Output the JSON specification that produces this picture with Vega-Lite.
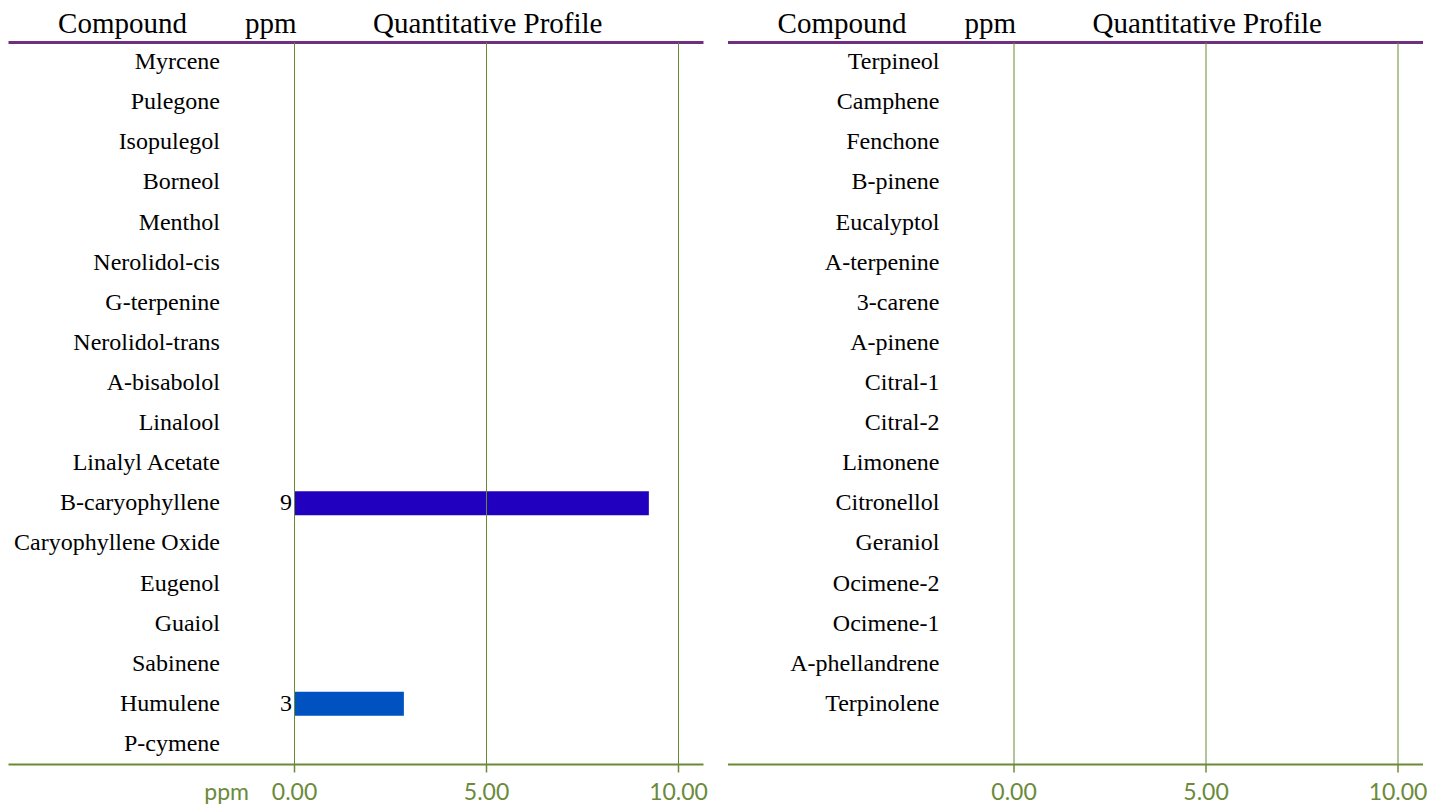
{
  "$schema": "https://vega.github.io/schema/vega-lite/v6.json",
  "background": "white",
  "padding": {"left": 8, "top": 9, "right": 0, "bottom": 0},
  "spacing": 24.5,
  "bounds": "flush",
  "config": {"view": {"stroke": null}},
  "datasets": {
    "left": [
      {"compound": "Myrcene", "ppm": 0},
      {"compound": "Pulegone", "ppm": 0},
      {"compound": "Isopulegol", "ppm": 0},
      {"compound": "Borneol", "ppm": 0},
      {"compound": "Menthol", "ppm": 0},
      {"compound": "Nerolidol-cis", "ppm": 0},
      {"compound": "G-terpenine", "ppm": 0},
      {"compound": "Nerolidol-trans", "ppm": 0},
      {"compound": "A-bisabolol", "ppm": 0},
      {"compound": "Linalool", "ppm": 0},
      {"compound": "Linalyl Acetate", "ppm": 0},
      {"compound": "B-caryophyllene", "ppm": 9.24},
      {"compound": "Caryophyllene Oxide", "ppm": 0},
      {"compound": "Eugenol", "ppm": 0},
      {"compound": "Guaiol", "ppm": 0},
      {"compound": "Sabinene", "ppm": 0},
      {"compound": "Humulene", "ppm": 2.86},
      {"compound": "P-cymene", "ppm": 0}
    ],
    "right": [
      {"compound": "Terpineol", "ppm": 0},
      {"compound": "Camphene", "ppm": 0},
      {"compound": "Fenchone", "ppm": 0},
      {"compound": "B-pinene", "ppm": 0},
      {"compound": "Eucalyptol", "ppm": 0},
      {"compound": "A-terpenine", "ppm": 0},
      {"compound": "3-carene", "ppm": 0},
      {"compound": "A-pinene", "ppm": 0},
      {"compound": "Citral-1", "ppm": 0},
      {"compound": "Citral-2", "ppm": 0},
      {"compound": "Limonene", "ppm": 0},
      {"compound": "Citronellol", "ppm": 0},
      {"compound": "Geraniol", "ppm": 0},
      {"compound": "Ocimene-2", "ppm": 0},
      {"compound": "Ocimene-1", "ppm": 0},
      {"compound": "A-phellandrene", "ppm": 0},
      {"compound": "Terpinolene", "ppm": 0}
    ]
  },
  "hconcat": [
    {
      "width": 695,
      "height": 722,
      "data": {"name": "left"},
      "resolve": {"axis": {"x": "independent"}},
      "layer": [
        {
          "mark": {"type": "bar", "height": {"band": 0.6}},
          "encoding": {
            "y": {"field": "compound", "type": "nominal", "sort": null, "axis": null,
                  "scale": {"paddingInner": 0, "paddingOuter": 0}},
            "x": {"field": "ppm", "type": "quantitative",
                  "scale": {"domain": [-7.45, 10.65], "nice": false, "zero": false},
                  "axis": {"orient": "bottom", "values": [-1.77, 0, 5, 10], "title": null, "zindex": 1,
                           "labelExpr": "datum.value < 0 ? 'ppm' : format(datum.value, '.2f')",
                           "labelFont": "Lato", "labelFontSize": 23, "labelColor": "#6B8A3A",
                           "labelPadding": 9, "labelFlush": false, "labelOverlap": false, "labelBound": false, "labelLimit": 0,
                           "domainColor": "#6B8A35", "domainWidth": 2,
                           "tickSize": 8, "tickWidth": 1.5, "tickColor": "#6B8A35",
                           "tickOpacity": {"condition": {"test": "datum.value < 0", "value": 0}, "value": 1},
                           "grid": true, "gridColor": "#6B8A2E", "gridWidth": 1,
                           "gridOpacity": {"condition": {"test": "datum.value < 0", "value": 0}, "value": 1}}},
            "color": {"field": "compound", "type": "nominal", "legend": null,
                      "scale": {"domain": ["B-caryophyllene", "Humulene"], "range": ["#2200C0", "#0052C0"]}}
          }
        },
        {
          "mark": {"type": "text", "align": "right", "baseline": "middle", "font": "Liberation Serif", "fontSize": 24, "color": "black"},
          "encoding": {
            "y": {"field": "compound", "type": "nominal", "sort": null, "axis": null},
            "x": {"datum": -1.93, "type": "quantitative",
                  "axis": {"orient": "top", "values": [-4.48, -0.62, 5.03], "title": null,
                           "labelExpr": "datum.value < -2 ? 'Compound' : datum.value < 0 ? 'ppm' : 'Quantitative Profile'",
                           "labelFont": "Liberation Serif", "labelFontSize": 29, "labelColor": "black",
                           "labelPadding": 4, "labelFlush": false, "labelOverlap": false, "labelBound": false, "labelLimit": 0,
                           "ticks": false, "grid": false,
                           "domainColor": "#70307F", "domainWidth": 3}},
            "text": {"field": "compound"}
          }
        },
        {
          "transform": [{"filter": "datum.ppm > 0"}],
          "mark": {"type": "text", "align": "right", "baseline": "middle", "dx": -2, "font": "Liberation Serif", "fontSize": 24, "color": "black"},
          "encoding": {
            "y": {"field": "compound", "type": "nominal", "sort": null, "axis": null},
            "x": {"datum": 0, "type": "quantitative", "axis": null},
            "text": {"field": "ppm", "type": "quantitative", "format": ".0f"}
          }
        }
      ]
    },
    {
      "width": 695,
      "height": 722,
      "data": {"name": "right"},
      "resolve": {"axis": {"x": "independent"}},
      "layer": [
        {
          "mark": {"type": "bar", "height": {"band": 0.6}},
          "encoding": {
            "y": {"field": "compound", "type": "nominal", "sort": null, "axis": null,
                  "scale": {"paddingInner": 0, "paddingOuter": 0.5, "align": 0}},
            "x": {"field": "ppm", "type": "quantitative",
                  "scale": {"domain": [-7.45, 10.65], "nice": false, "zero": false},
                  "axis": {"orient": "bottom", "values": [0, 5, 10], "title": null, "zindex": 1,
                           "format": ".2f",
                           "labelFont": "Lato", "labelFontSize": 23, "labelColor": "#6B8A3A",
                           "labelPadding": 9, "labelFlush": false, "labelOverlap": false, "labelBound": false, "labelLimit": 0,
                           "domainColor": "#6B8A35", "domainWidth": 2,
                           "tickSize": 8, "tickWidth": 1.5, "tickColor": "#6B8A35",
                           "grid": true, "gridColor": "#6B8A2E", "gridWidth": 1, "gridOpacity": 1}},
            "color": {"field": "compound", "type": "nominal", "legend": null,
                      "scale": {"domain": ["B-caryophyllene", "Humulene"], "range": ["#2200C0", "#0052C0"]}}
          }
        },
        {
          "mark": {"type": "text", "align": "right", "baseline": "middle", "font": "Liberation Serif", "fontSize": 24, "color": "black"},
          "encoding": {
            "y": {"field": "compound", "type": "nominal", "sort": null, "axis": null},
            "x": {"datum": -1.93, "type": "quantitative",
                  "axis": {"orient": "top", "values": [-4.48, -0.62, 5.03], "title": null,
                           "labelExpr": "datum.value < -2 ? 'Compound' : datum.value < 0 ? 'ppm' : 'Quantitative Profile'",
                           "labelFont": "Liberation Serif", "labelFontSize": 29, "labelColor": "black",
                           "labelPadding": 4, "labelFlush": false, "labelOverlap": false, "labelBound": false, "labelLimit": 0,
                           "ticks": false, "grid": false,
                           "domainColor": "#70307F", "domainWidth": 3}},
            "text": {"field": "compound"}
          }
        }
      ]
    }
  ]
}
